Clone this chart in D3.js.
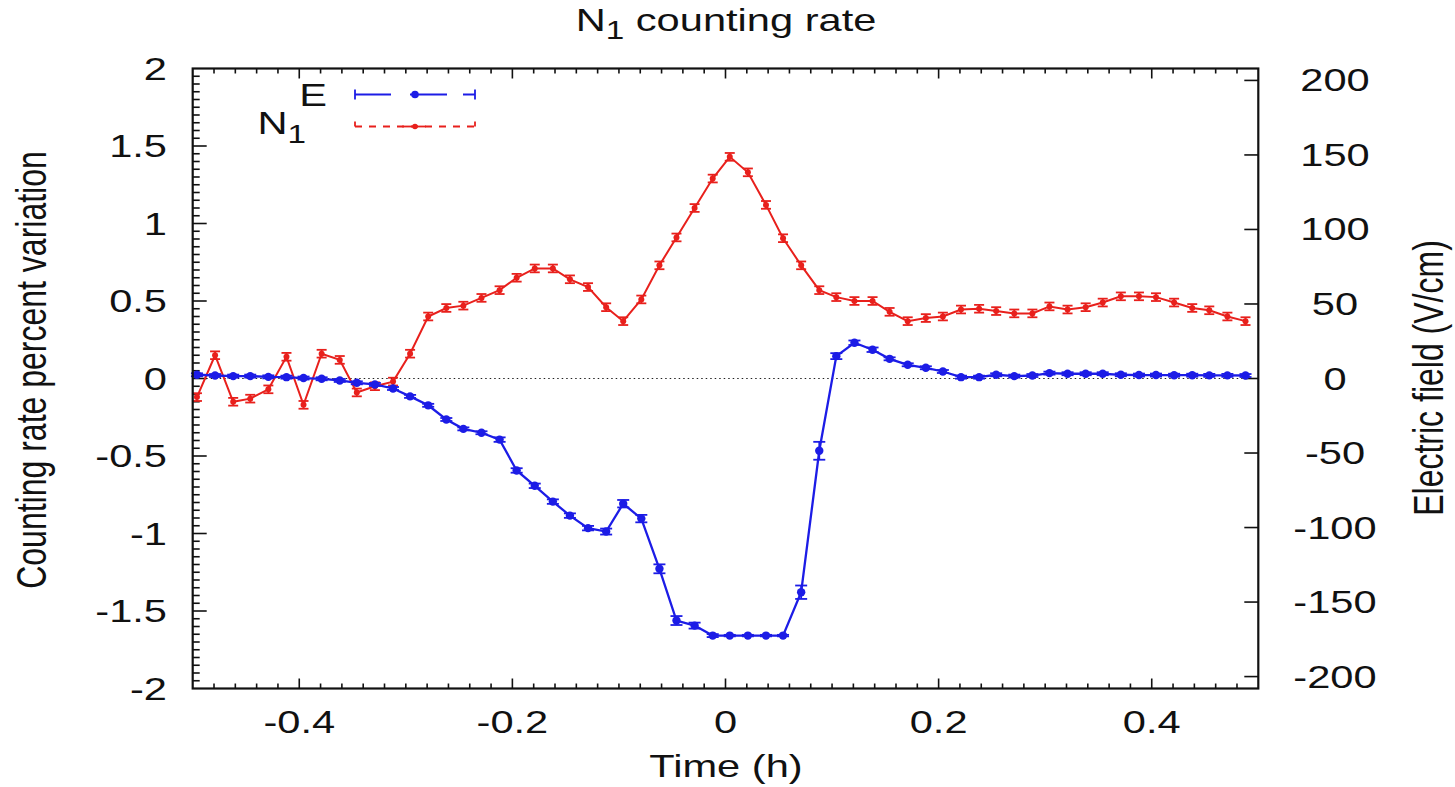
<!DOCTYPE html>
<html>
<head>
<meta charset="utf-8">
<script src="https://cdn.jsdelivr.net/npm/d3@7"></script>
<style>
  html, body { margin: 0; padding: 0; background: #fff; }
  svg { display: block; }
  text { font-family: "Liberation Sans", Arial, Helvetica, sans-serif; fill: #111; }
</style>
</head>
<body>
<svg id="chart" width="1455" height="787"></svg>
<script>
// Time in hours (one sample per minute)
const time = [-0.496, -0.479, -0.462, -0.446, -0.429, -0.412, -0.396, -0.379, -0.362, -0.346,
              -0.329, -0.312, -0.296, -0.279, -0.262, -0.246, -0.229, -0.212, -0.196, -0.179,
              -0.162, -0.146, -0.129, -0.112, -0.096, -0.079, -0.062, -0.046, -0.029, -0.012,
               0.004,  0.021,  0.038,  0.054,  0.071,  0.088,  0.104,  0.121,  0.138,  0.154,
               0.171,  0.188,  0.204,  0.221,  0.238,  0.254,  0.271,  0.288,  0.304,  0.321,
               0.338,  0.354,  0.371,  0.388,  0.404,  0.421,  0.438,  0.454,  0.471,  0.488];

// N1 counting rate percent variation (left axis)
const n1Rate = [-0.12, 0.15, -0.15, -0.13, -0.07, 0.14, -0.17, 0.16, 0.12, -0.09,
                -0.05, -0.02, 0.16, 0.40, 0.455, 0.47, 0.52, 0.57, 0.65, 0.71,
                 0.71, 0.64, 0.59, 0.46, 0.37, 0.51, 0.73, 0.91, 1.10, 1.29,
                 1.43, 1.33, 1.12, 0.905, 0.73, 0.57, 0.525, 0.50, 0.50, 0.43,
                 0.37, 0.39, 0.40, 0.445, 0.45, 0.435, 0.42, 0.42, 0.465, 0.445,
                 0.46, 0.49, 0.53, 0.53, 0.525, 0.49, 0.455, 0.44, 0.40, 0.37];
const n1Err = [0.025, 0.025, 0.025, 0.025, 0.025, 0.025, 0.025, 0.025, 0.025, 0.025,
               0.025, 0.025, 0.025, 0.025, 0.025, 0.025, 0.025, 0.025, 0.025, 0.025,
               0.025, 0.025, 0.025, 0.025, 0.025, 0.025, 0.025, 0.025, 0.025, 0.025,
               0.025, 0.025, 0.025, 0.025, 0.025, 0.025, 0.025, 0.025, 0.025, 0.025,
               0.025, 0.025, 0.025, 0.025, 0.025, 0.025, 0.025, 0.025, 0.025, 0.025,
               0.025, 0.025, 0.025, 0.025, 0.025, 0.025, 0.025, 0.025, 0.025, 0.025];

// Electric field in V/cm (right axis)
const field = [2.5, 2, 1.6, 1.6, 1.1, 0.9, 0.3, -0.2, -1.3, -2.9,
               -4, -6.7, -12, -18, -27.5, -33.8, -36.4, -41, -61.7, -72,
               -82.6, -92, -100.4, -102.7, -84, -94, -127.7, -162.4, -165.8, -172.5,
               -172.5, -172.5, -172.5, -172.5, -143.4, -48.5, 15, 24, 19.3, 13.2,
               9.2, 7.2, 4.7, 0.9, 0.9, 2.5, 1.6, 2, 3.6, 3.2,
               3.2, 3.2, 2.5, 2.3, 2.3, 2.2, 2.2, 2.1, 2.1, 2.0];
const fieldErr = [1, 1, 1, 1, 1, 1, 1, 1, 1, 1,
                  1, 1, 1, 1, 1, 1, 1, 1.5, 1.5, 1.5,
                  1.5, 1.5, 1.5, 2, 2.5, 2.5, 3, 3, 2, 1,
                  0.5, 0.5, 0.5, 0.5, 4.5, 6, 2, 1.5, 1.5, 1,
                  1, 1, 1, 1, 1, 1, 1, 1, 1, 1,
                  1, 1, 1, 1, 1, 1, 1, 1, 1, 1];

// Tick labels
const xTicks = [-0.4, -0.2, 0, 0.2, 0.4];
const yLeftTicks = [-2, -1.5, -1, -0.5, 0, 0.5, 1, 1.5, 2];
const yRightTicks = [-200, -150, -100, -50, 0, 50, 100, 150, 200];

const SX = 1.3;          // horizontal stretch of lettering
const FS = 32;           // font size
const BLUE = "#1c1ce6";
const RED = "#e8201c";

const svg = d3.select("#chart");
const L = 192.7, R = 1258.3, T = 68.5, B = 688.5;

const x = d3.scaleLinear().domain([-0.5, 0.5]).range([L, R]);
const yL = d3.scaleLinear().domain([-2, 2]).range([B, T]);
const yR = d3.scaleLinear().domain([-208, 208]).range([B, T]);

const fmt = v => String(v);

function stext(g, px, py, str, anchor, rot) {
  const t = g.append("text")
    .attr("transform", `translate(${px},${py}) scale(${SX},1)` + (rot ? " rotate(-90)" : ""))
    .attr("text-anchor", anchor || "middle")
    .attr("font-size", FS);
  t.text(str);
  return t;
}

// zero reference line
svg.append("line")
  .attr("x1", L).attr("x2", R).attr("y1", yL(0)).attr("y2", yL(0))
  .attr("stroke", "#222").attr("stroke-width", 1.2).attr("stroke-dasharray", "1.5,3");

// ticks
const tickG = svg.append("g").attr("stroke", "#111").attr("stroke-width", 1.6);
const xMinor = d3.range(-0.48, 0.4901, 0.02);
xMinor.forEach(v => {
  const major = xTicks.some(t => Math.abs(t - v) < 1e-6);
  const len = major ? 10 : 5;
  tickG.append("line").attr("x1", x(v)).attr("x2", x(v)).attr("y1", B).attr("y2", B - len);
  tickG.append("line").attr("x1", x(v)).attr("x2", x(v)).attr("y1", T).attr("y2", T + len);
});
d3.range(-1.95, 1.951, 0.05).forEach(v => {
  const major = yLeftTicks.some(t => Math.abs(t - v) < 1e-6);
  const len = major ? 14 : 7;
  tickG.append("line").attr("x1", L).attr("x2", L + len).attr("y1", yL(v)).attr("y2", yL(v));
});
yRightTicks.forEach(v => {
  tickG.append("line").attr("x1", R).attr("x2", R - 14).attr("y1", yR(v)).attr("y2", yR(v));
});

// tick labels
const labG = svg.append("g");
xTicks.forEach(v => stext(labG, x(v), 733, fmt(v), "middle"));
yLeftTicks.forEach(v => stext(labG, 167, yL(v) + 11, fmt(v), "end"));
yRightTicks.forEach(v => stext(labG, 1335, yR(v) + 11, fmt(v), "middle"));

// axis titles
stext(labG, 726, 777, "Time (h)", "middle");
stext(labG, 46, 370, "Counting rate percent variation", "middle", true);
stext(labG, 1443, 378, "Electric field (V/cm)", "middle", true);

// chart title with subscript
const title = stext(labG, 726, 31, "", "middle");
title.append("tspan").text("N");
title.append("tspan").attr("font-size", FS * 0.8).attr("dy", 8).text("1");
title.append("tspan").attr("dy", -8).text(" counting rate");

// series
function drawSeries(vals, errs, yScale, color, lw, r, cap) {
  const g = svg.append("g");
  const pts = time.map((t, i) => ({ t, v: vals[i], e: errs[i] }));
  g.append("path").datum(pts)
    .attr("fill", "none").attr("stroke", color).attr("stroke-width", lw)
    .attr("d", d3.line().x(d => x(d.t)).y(d => yScale(d.v)));
  const eb = g.append("g").attr("stroke", color).attr("stroke-width", 1.8);
  pts.forEach(d => {
    const y1 = yScale(d.v - d.e), y2 = yScale(d.v + d.e), cx = x(d.t);
    eb.append("line").attr("x1", cx).attr("x2", cx).attr("y1", y1).attr("y2", y2);
    eb.append("line").attr("x1", cx - cap).attr("x2", cx + cap).attr("y1", y1).attr("y2", y1);
    eb.append("line").attr("x1", cx - cap).attr("x2", cx + cap).attr("y1", y2).attr("y2", y2);
  });
  g.selectAll("circle").data(pts).join("circle")
    .attr("cx", d => x(d.t)).attr("cy", d => yScale(d.v)).attr("r", r).attr("fill", color);
}
drawSeries(n1Rate, n1Err, yL, RED, 2, 3, 5);
drawSeries(field, fieldErr, yR, BLUE, 2.3, 4.2, 6);

// frame
svg.append("rect").attr("x", L).attr("y", T).attr("width", R - L).attr("height", B - T)
  .attr("fill", "none").attr("stroke", "#111").attr("stroke-width", 2.2);

// legend
const lg = svg.append("g");
stext(lg, 327, 106, "E", "end");
const nl = stext(lg, 306, 134, "", "end");
nl.append("tspan").text("N");
nl.append("tspan").attr("font-size", FS * 0.8).attr("dy", 9).text("1");
const bY = 94.5, rY = 126.5;
[[355, 391], [410, 447], [463, 475]].forEach(s =>
  lg.append("line").attr("x1", s[0]).attr("x2", s[1]).attr("y1", bY).attr("y2", bY)
    .attr("stroke", BLUE).attr("stroke-width", 2));
[355, 475].forEach(cx => lg.append("line").attr("x1", cx).attr("x2", cx)
  .attr("y1", bY - 5).attr("y2", bY + 5).attr("stroke", BLUE).attr("stroke-width", 1.8));
lg.append("circle").attr("cx", 415).attr("cy", bY).attr("r", 3.8).attr("fill", BLUE);
lg.append("line").attr("x1", 355).attr("x2", 475).attr("y1", rY).attr("y2", rY)
  .attr("stroke", RED).attr("stroke-width", 1.8).attr("stroke-dasharray", "7,7");
[355, 475].forEach(cx => lg.append("line").attr("x1", cx).attr("x2", cx)
  .attr("y1", rY - 5).attr("y2", rY).attr("stroke", RED).attr("stroke-width", 1.8));
lg.append("line").attr("x1", 402).attr("x2", 426).attr("y1", rY).attr("y2", rY)
  .attr("stroke", RED).attr("stroke-width", 1.8);
lg.append("circle").attr("cx", 415).attr("cy", rY).attr("r", 2.8).attr("fill", RED);
</script>
</body>
</html>
